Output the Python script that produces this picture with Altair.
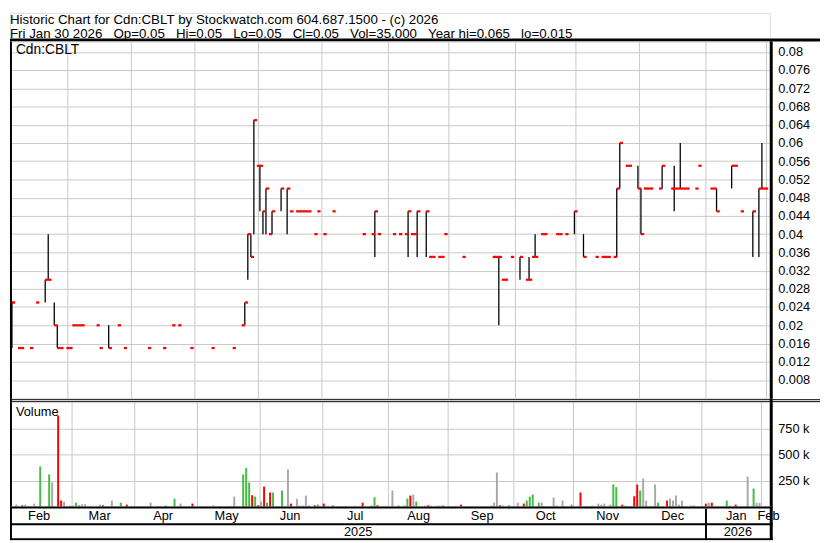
import altair as alt
import pandas as pd

# ---------------- data (trading-day index from Feb 3 2025) ----------------
day_idx = [0, 2, 3, 6, 8, 11, 12, 14, 15, 16, 18,
           19, 20, 21, 22, 23, 28, 29, 32, 35, 37,
           45, 50, 53, 55, 59,
           66, 73, 76, 77, 78, 79, 80, 81,
           82, 83, 84, 85, 86, 89, 91, 92, 94, 95, 96, 97, 98, 100, 101,
           103, 106, 116, 119, 120, 121,
           126, 128, 130, 131, 132, 133, 134, 137, 138, 139, 141, 142, 143,
           149, 159, 160, 161, 162, 163, 165,
           168, 170, 171, 172, 173, 175, 176, 180, 181, 183, 186,
           189, 193, 195, 196, 197, 199, 200, 201, 203, 204, 207,
           208, 209, 210, 211, 214, 215, 218, 219, 220, 221, 222, 223, 226, 227,
           231, 232, 233, 238, 239, 241, 245, 247, 248, 249]
highs = [.025, .015, .015, .015, .025, .03, .04, .025, .02, .015, .015,
         .015, .02, .02, .02, .02, .02, .015, .02, .02, .015,
         .015, .015, .02, .02, .015,
         .015, .015, .02, .025, .04, .04, .065, .055,
         .055, .045, .05, .04, .045, .05, .05, .045, .045, .045, .045, .045, .045, .04, .045,
         .04, .045, .04, .04, .045, .04,
         .04, .04, .04, .045, .04, .04, .045, .045, .035, .035, .035, .035, .04,
         .035, .035, .035, .035, .03, .03, .035,
         .035, .03, .035, .035, .04, .04, .04, .04, .04, .04, .045,
         .04, .035, .035, .035, .035, .035, .05, .06, .055, .055, .055,
         .05, .05, .05, .05, .05, .055, .05, .055, .05, .06, .05, .05, .05, .055,
         .05, .05, .05, .055, .055, .045, .045, .05, .06, .05]
lows = [.015, .015, .015, .015, .025, .025, .03, .02, .015, .015, .015,
        .015, .02, .02, .02, .02, .02, .015, .015, .02, .015,
        .015, .015, .02, .02, .015,
        .015, .015, .02, .02, .03, .035, .04, .055,
        .045, .04, .04, .04, .04, .045, .04, .045, .045, .045, .045, .045, .045, .04, .045,
        .04, .045, .04, .04, .035, .04,
        .04, .04, .04, .035, .04, .04, .035, .035, .035, .035, .035, .035, .04,
        .035, .035, .035, .02, .03, .03, .035,
        .03, .03, .03, .035, .035, .04, .04, .04, .04, .04, .04,
        .035, .035, .035, .035, .035, .035, .035, .05, .055, .055, .05,
        .04, .05, .05, .05, .05, .05, .05, .045, .05, .05, .05, .05, .05, .055,
        .05, .05, .045, .05, .055, .045, .035, .035, .05, .05]
closes = [.025, .015, .015, .015, .025, .03, .03, .02, .015, .015, .015,
          .015, .02, .02, .02, .02, .02, .015, .015, .02, .015,
          .015, .015, .02, .02, .015,
          .015, .015, .02, .025, .04, .035, .065, .055,
          .055, .045, .05, .04, .045, .05, .05, .045, .045, .045, .045, .045, .045, .04, .045,
          .04, .045, .04, .04, .045, .04,
          .04, .04, .04, .045, .04, .04, .045, .045, .035, .035, .035, .035, .04,
          .035, .035, .035, .035, .03, .03, .035,
          .035, .03, .03, .035, .035, .04, .04, .04, .04, .04, .045,
          .035, .035, .035, .035, .035, .035, .05, .06, .055, .055, .05,
          .04, .05, .05, .05, .05, .055, .05, .05, .05, .05, .05, .05, .05, .055,
          .05, .05, .045, .055, .055, .045, .045, .05, .05, .05]
volumes = [20000, 13000, 19000, 29000, 385000, 308000, 231000, 872000, 58000, 48000, 10000,
           10000, 38000, 16000, 22000, 22000, 19000, 13000, 58000, 38000, 19000,
           38000, 13000, 77000, 29000, 29000,
           13000, 96000, 308000, 369000, 231000, 109000, 96000, 13000,
           48000, 192000, 38000, 135000, 135000, 154000, 356000, 29000, 74000, 10000, 10000,
           106000, 13000, 13000, 19000,
           29000, 13000, 38000, 13000, 90000, 13000,
           154000, 13000, 13000, 77000, 106000, 115000, 48000, 10000, 13000, 10000, 10000, 10000, 13000,
           19000, 10000, 38000, 327000, 13000, 10000, 13000,
           38000, 29000, 58000, 96000, 115000, 38000, 38000, 87000, 10000, 58000, 19000,
           135000, 10000, 29000, 19000, 29000, 19000, 212000, 186000, 19000, 10000, 99000,
           212000, 154000, 269000, 58000, 212000, 38000, 58000, 77000, 58000, 106000, 19000,
           58000, 10000, 10000,
           29000, 38000, 38000, 58000, 10000, 19000, 288000, 173000, 38000, 35000]
vol_dir = ["n", "r", "n", "n", "g", "g", "n", "r", "r", "n", "n",
           "n", "g", "n", "n", "n", "n", "r", "n", "g", "r",
           "n", "n", "g", "n", "r",
           "n", "n", "g", "g", "g", "r", "g", "r",
           "n", "r", "g", "r", "g", "g", "n", "r", "n", "n", "n", "n", "n", "r", "g",
           "r", "g", "r", "n", "g", "r",
           "n", "n", "n", "g", "r", "n", "g", "n", "r", "n", "n", "n", "g",
           "r", "n", "n", "n", "r", "n", "g",
           "n", "r", "g", "g", "g", "g", "n", "n", "n", "n", "g",
           "r", "n", "n", "n", "n", "n", "g", "g", "r", "n", "r",
           "r", "g", "n", "n", "n", "g", "r", "n", "n", "n", "n", "n", "n", "g",
           "r", "n", "r", "g", "n", "r", "n", "g", "n", "n"]

month_names = ["Feb", "Mar", "Apr", "May", "Jun", "Jul", "Aug", "Sep", "Oct", "Nov", "Dec", "Jan", "Feb"]
month_starts = [0, 19, 40, 61, 82, 103, 125, 145, 167, 187, 208, 230, 250]
year_names = ["2025", "2026"]
year_starts = [0, 230]
price_ticks = [0.008, 0.012, 0.016, 0.02, 0.024, 0.028, 0.032, 0.036, 0.04, 0.044,
               0.048, 0.052, 0.056, 0.06, 0.064, 0.068, 0.072, 0.076, 0.08]
vol_ticks = [250000, 500000, 750000]

header_1 = "Historic Chart for Cdn:CBLT by Stockwatch.com 604.687.1500 - (c) 2026"
header_2 = "Fri Jan 30 2026   Op=0.05   Hi=0.05   Lo=0.05   Cl=0.05   Vol=35,000   Year hi=0.065   lo=0.015"
symbol_label = "Cdn:CBLT"
volume_label = "Volume"

# ---------------- styling ----------------
FONT = "Liberation Sans"
RED = "#FF0000"
GREEN = "#44BB44"
GRAY = "#A8A8A8"
GRID = "#C8C8C8"
W = 771
FULLW = 822
X_DOM = [-0.65, 250.6]
xs = alt.Scale(domain=X_DOM, nice=False, zero=False)

df = pd.DataFrame({"i": day_idx, "hi": highs, "lo": lows, "cl": closes,
                   "vol": volumes, "dir": vol_dir})
grid_df = pd.DataFrame({"g": [s - 0.5 for s in month_starts[1:]]})
ends = month_starts[1:] + [X_DOM[1]]
mdf = pd.DataFrame({"m": month_names,
                    "pos": [(s + e) / 2 - 0.5 if k < len(month_names) - 1 else s + 0.2
                            for k, (s, e) in enumerate(zip(month_starts, ends))]})
yends = year_starts[1:] + [X_DOM[1] + 0.5]
ydf = pd.DataFrame({"y": year_names,
                    "pos": [(s + e) / 2 - 0.5 for s, e in zip(year_starts, yends)]})
ydiv = pd.DataFrame({"g": [s - 0.5 for s in year_starts[1:]]})
one = pd.DataFrame({"a": [0]})


def txt(s, x, y, size=13, align="left"):
    return alt.Chart(pd.DataFrame({"t": [s]})).mark_text(
        align=align, baseline="middle", fontSize=size, font=FONT, color="black"
    ).encode(x=alt.value(x), y=alt.value(y), text="t:N")


def hline(y, x1, x2, sw):
    return alt.Chart(one).mark_rule(color="black", strokeWidth=sw).encode(
        x=alt.value(x1), x2=alt.value(x2), y=alt.value(y))


def vline(x, y1, y2, sw):
    return alt.Chart(one).mark_rule(color="black", strokeWidth=sw).encode(
        x=alt.value(x), y=alt.value(y1), y2=alt.value(y2))


def borders(h):
    return [vline(1, 0, h, 2), vline(772.5, 0, h, 3)]


vgrid = alt.Chart(grid_df).mark_rule(color=GRID, strokeWidth=1).encode(
    x=alt.X("g:Q", scale=xs, axis=None))

# ---------------- header ----------------
HH = 29
header = alt.layer(
    txt(header_1.replace(" ", "\u00a0"), 0, 7, 13.5),
    txt(header_2.replace(" ", "\u00a0"), 0, 21, 13.5),
    hline(27.5, 0, FULLW, 3),
).properties(width=W, height=HH)

# ---------------- price panel ----------------
PH = 362
ys = alt.Scale(domain=[0.004, 0.004 + PH / 4625], nice=False, zero=False)
yax = alt.Axis(orient="right", values=price_ticks, format=".3~f", grid=True,
               gridColor=GRID, gridWidth=1, domain=False, ticks=False, labelPadding=8,
               labelFontSize=13, labelFont=FONT, labelColor="black", title=None,
               labelBaseline="middle")
hl = alt.Chart(df).mark_rule(color="black", strokeWidth=1.3).encode(
    x=alt.X("i:Q", scale=xs, axis=None),
    y=alt.Y("lo:Q", scale=ys, axis=yax), y2="hi:Q")
ticks = alt.Chart(df).mark_tick(orient="horizontal", size=3.3, thickness=2.3,
                                color=RED, xOffset=1.6, opacity=1).encode(
    x=alt.X("i:Q", scale=xs, axis=None),
    y=alt.Y("cl:Q", scale=ys, axis=yax))
price = alt.layer(vgrid, hl, ticks, *borders(PH), txt(symbol_label, 6, 9, 14)
                  ).properties(width=W, height=PH)

# ---------------- separator ----------------
sep = alt.layer(hline(1.5, 0, FULLW, 1), hline(3.5, 0, FULLW, 1), *borders(4)
                ).properties(width=W, height=4)

# ---------------- volume panel ----------------
VH = 106
vs = alt.Scale(domain=[0, 1000000], nice=False, zero=True)
vax = alt.Axis(orient="right", values=vol_ticks, labelExpr="format(datum.value / 1000, 'd') + ' k'",
               grid=True, gridColor=GRID, gridWidth=1, domain=False, ticks=False, labelPadding=8,
               labelFontSize=13, labelFont=FONT, labelColor="black", title=None,
               labelBaseline="middle")
bars = alt.Chart(df).mark_bar(size=2, xOffset=-0.5).encode(
    x=alt.X("i:Q", scale=xs, axis=None),
    y=alt.Y("vol:Q", scale=vs, axis=vax),
    color=alt.Color("dir:N", scale=alt.Scale(domain=["g", "r", "n"], range=[GREEN, RED, GRAY]),
                    legend=None))
volume = alt.layer(vgrid, bars, *borders(VH), txt(volume_label, 6, 10, 13)
                   ).properties(width=W, height=VH)

# ---------------- date rows ----------------
DH = 34
mtext = alt.Chart(mdf).mark_text(fontSize=13, font=FONT, baseline="middle", color="black").encode(
    x=alt.X("pos:Q", scale=xs, axis=None), y=alt.value(9.5), text="m:N")
ytext = alt.Chart(ydf).mark_text(fontSize=13, font=FONT, baseline="middle", color="black").encode(
    x=alt.X("pos:Q", scale=xs, axis=None), y=alt.value(26), text="y:N")
ydivider = alt.Chart(ydiv).mark_rule(color="black", strokeWidth=2).encode(
    x=alt.X("g:Q", scale=xs, axis=None), y=alt.value(2), y2=alt.value(DH))
dates = alt.layer(mtext, ytext, ydivider,
                  hline(1, 0, 774, 2), hline(18, 0, 774, 2), hline(33, 0, 774, 2),
                  *borders(DH)).properties(width=W, height=DH)

chart = alt.vconcat(header, price, sep, volume, dates, spacing=0, bounds="flush",
                    padding=0, background="white").configure_view(stroke=None).configure(font=FONT)

chart.save("out.html", embed_options={"renderer": "svg", "actions": False})
